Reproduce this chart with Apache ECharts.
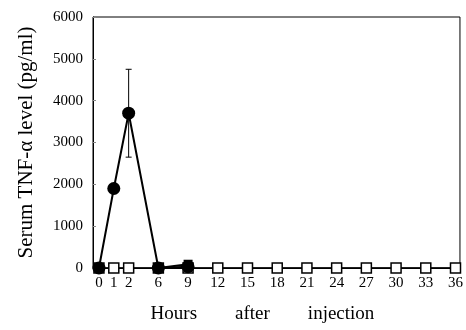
<!DOCTYPE html>
<html>
<head>
<meta charset="utf-8">
<script src="https://cdn.jsdelivr.net/npm/echarts@6/dist/echarts.min.js"></script>
<style>
  html, body { margin: 0; padding: 0; background: #fff; }
  #chart { width: 466px; height: 330px; }
</style>
</head>
<body>
<div id="chart"></div>
<script>
// sampling times (hours after injection)
const hours = [0, 1, 2, 6, 9, 12, 15, 18, 21, 24, 27, 30, 33, 36];
// filled circles: mean and SD
const circleHours = [0, 1, 2, 6, 9];
const circleMean = [0, 1900, 3700, 0, 30];
const circleSD = [0, 0, 1050, 0, 0];
// filled square seen at 9 h
const filledSqHours = [6, 9];
const filledSqMean = [0, 90];
// open squares
const openSqHours = [0, 1, 2, 6, 9, 12, 15, 18, 21, 24, 27, 30, 33, 36];
const openSqMean = [0, 0, 0, 0, 0, 0, 0, 0, 0, 0, 0, 0, 0, 0];
const yTicks = [0, 1000, 2000, 3000, 4000, 5000, 6000];

// the original axis is stretched: 0-2 h at half a step, then 3 h per step
function axisPos(h) {
    return h <= 2 ? h / 2 : h / 3;
}
const tickPos = hours.map(axisPos);

const serif = 'Liberation Serif';

const chart = echarts.init(document.getElementById('chart'));
chart.setOption({
    animation: false,
    backgroundColor: '#fff',
    grid: {
        left: 93, right: 4, top: 17, bottom: 62,
        show: true, borderColor: '#000', borderWidth: 1
    },
    xAxis: {
        type: 'value',
        min: -0.2,
        max: 12.15,
        name: 'Hours        after        injection',
        nameLocation: 'middle',
        nameGap: 37,
        nameTextStyle: { fontFamily: serif, fontSize: 19, color: '#000', padding: [0, 28, 0, 0] },
        axisLine: { show: true, onZero: false, lineStyle: { color: '#000', width: 1 } },
        axisTick: { show: false },
        splitLine: { show: false },
        axisLabel: {
            customValues: tickPos,
            formatter: function (v) {
                const i = tickPos.findIndex(p => Math.abs(p - v) < 1e-6);
                return i >= 0 ? String(hours[i]) : '';
            },
            fontFamily: serif, fontSize: 15, color: '#000', margin: 8
        }
    },
    yAxis: {
        type: 'value',
        min: 0,
        max: 6000,
        interval: 1000,
        name: 'Serum TNF-α level (pg/ml)',
        nameLocation: 'middle',
        nameGap: 56,
        nameTextStyle: { fontFamily: serif, fontSize: 21, color: '#000' },
        axisLine: { show: true, onZero: false, lineStyle: { color: '#000', width: 1 } },
        axisTick: { show: true, inside: true, length: 3, lineStyle: { color: '#888' } },
        splitLine: { show: false },
        axisLabel: {
            fontFamily: serif, fontSize: 15, color: '#000', margin: 10,
            formatter: v => (yTicks.includes(v) ? String(v) : '')
        }
    },
    series: [
        {
            type: 'line',
            data: openSqHours.map((h, i) => [axisPos(h), openSqMean[i]]),
            symbol: 'rect',
            symbolSize: 10,
            itemStyle: { color: '#fff', borderColor: '#000', borderWidth: 1.5 },
            lineStyle: { color: '#000', width: 1.5 },
            z: 2
        },
        {
            type: 'line',
            data: filledSqHours.map((h, i) => [axisPos(h), filledSqMean[i]]),
            symbol: 'rect',
            symbolSize: 9,
            itemStyle: { color: '#000' },
            lineStyle: { color: '#000', width: 2 },
            z: 3
        },
        {
            type: 'custom',
            renderItem: function (params, api) {
                const x = api.value(0), m = api.value(1), sd = api.value(2);
                if (!sd) return null;
                const top = api.coord([x, m + sd]);
                const bot = api.coord([x, m - sd]);
                const style = { stroke: '#000', lineWidth: 1 };
                return {
                    type: 'group',
                    children: [
                        { type: 'line', shape: { x1: top[0], y1: top[1], x2: bot[0], y2: bot[1] }, style: style },
                        { type: 'line', shape: { x1: top[0] - 3, y1: top[1], x2: top[0] + 3, y2: top[1] }, style: style },
                        { type: 'line', shape: { x1: bot[0] - 3, y1: bot[1], x2: bot[0] + 3, y2: bot[1] }, style: style }
                    ]
                };
            },
            data: circleHours.map((h, i) => [axisPos(h), circleMean[i], circleSD[i]]),
            z: 4
        },
        {
            type: 'line',
            data: circleHours.map((h, i) => [axisPos(h), circleMean[i]]),
            symbol: 'circle',
            symbolSize: 13,
            itemStyle: { color: '#000' },
            lineStyle: { color: '#000', width: 2 },
            z: 5
        }
    ]
});
</script>
</body>
</html>
